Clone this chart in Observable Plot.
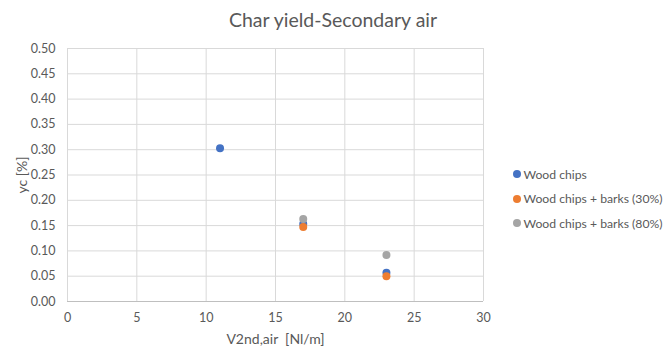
<!DOCTYPE html>
<html><head><meta charset="utf-8">
<script src="https://cdn.jsdelivr.net/npm/d3@7"></script>
<script src="https://cdn.jsdelivr.net/npm/@observablehq/plot@0.6"></script>
<style>
body{margin:0;background:#fff}
#c{position:relative;width:665px;height:350px;font-family:Lato,"Open Sans",sans-serif;color:#595959}
#title{position:absolute;left:133px;width:400px;top:7px;text-align:center;font-size:19.5px;line-height:26px;color:#595959;z-index:2}
#legend{position:absolute;left:512.5px;top:162px;font-family:Lato,sans-serif;font-size:12.2px;color:#595959;z-index:2}
.li{height:24.5px;display:flex;align-items:center;white-space:nowrap}
.sw{width:8px;height:8px;border-radius:50%;margin-right:3px;display:inline-block;flex:none}
svg{position:absolute;left:0;top:0}
</style>
</head><body><div id="c"><div id="title">Char yield-Secondary air</div><div id="legend"></div></div>
<script>
const seriesNames = ["Wood chips", "Wood chips + barks (30%)", "Wood chips + barks (80%)"];
const seriesColors = ["#4472C4", "#ED7D31", "#A5A5A5"];
const xWoodChips = [11, 17, 23];
const yWoodChips = [0.303, 0.153, 0.057];
const xBarks30 = [17, 23];
const yBarks30 = [0.147, 0.050];
const xBarks80 = [17, 23];
const yBarks80 = [0.163, 0.092];
const xTicks = [0, 5, 10, 15, 20, 25, 30];
const yTicks = [0, 0.05, 0.10, 0.15, 0.20, 0.25, 0.30, 0.35, 0.40, 0.45, 0.50];

const data = [
  ...xWoodChips.map((x, i) => ({x, y: yWoodChips[i], s: seriesNames[0]})),
  ...xBarks30.map((x, i) => ({x, y: yBarks30[i], s: seriesNames[1]})),
  ...xBarks80.map((x, i) => ({x, y: yBarks80[i], s: seriesNames[2]}))
];

const chart = Plot.plot({
  width: 665, height: 350,
  marginLeft: 67, marginRight: 182, marginTop: 48, marginBottom: 49,
  style: {fontFamily: "Lato, 'Open Sans', sans-serif", fontSize: "12px", color: "#595959", background: "transparent"},
  x: {domain: [0, 30]},
  y: {domain: [0, 0.5]},
  color: {domain: seriesNames, range: seriesColors},
  marks: [
    Plot.gridX(xTicks, {stroke: "#d9d9d9", strokeOpacity: 1}),
    Plot.gridY(yTicks, {stroke: "#d9d9d9", strokeOpacity: 1}),
    Plot.ruleY([0], {stroke: "#bfbfbf"}),
    Plot.axisX({ticks: xTicks, tickSize: 0, tickPadding: 12, fontSize: 12.5, label: null}),
    Plot.axisY({ticks: yTicks, tickSize: 0, tickPadding: 12, fontSize: 12.5, tickFormat: d => d.toFixed(2), label: null}),
    Plot.axisX({ticks: [], tickSize: 0, fontSize: 14, label: "V2nd,air  [Nl/m]", labelAnchor: "center", labelOffset: 42, labelArrow: "none"}),
    Plot.axisY({ticks: [], tickSize: 0, fontSize: 14, label: "yc [%]", labelAnchor: "center", labelOffset: 50, labelArrow: "none"}),
    Plot.dot(data, {x: "x", y: "y", fill: "s", r: 4})
  ]
});
document.getElementById("c").appendChild(chart);

const leg = document.getElementById("legend");
seriesNames.forEach((n, i) => {
  const d = document.createElement("div");
  d.className = "li";
  d.innerHTML = `<span class="sw" style="background:${seriesColors[i]}"></span><span class="lt">${n}</span>`;
  leg.appendChild(d);
});
// keep the legend inside the 665px window
let fs = 12.2;
while (leg.getBoundingClientRect().right > 663 && fs > 8) {
  fs -= 0.2;
  leg.style.fontSize = fs + "px";
}
</script>
</body></html>
